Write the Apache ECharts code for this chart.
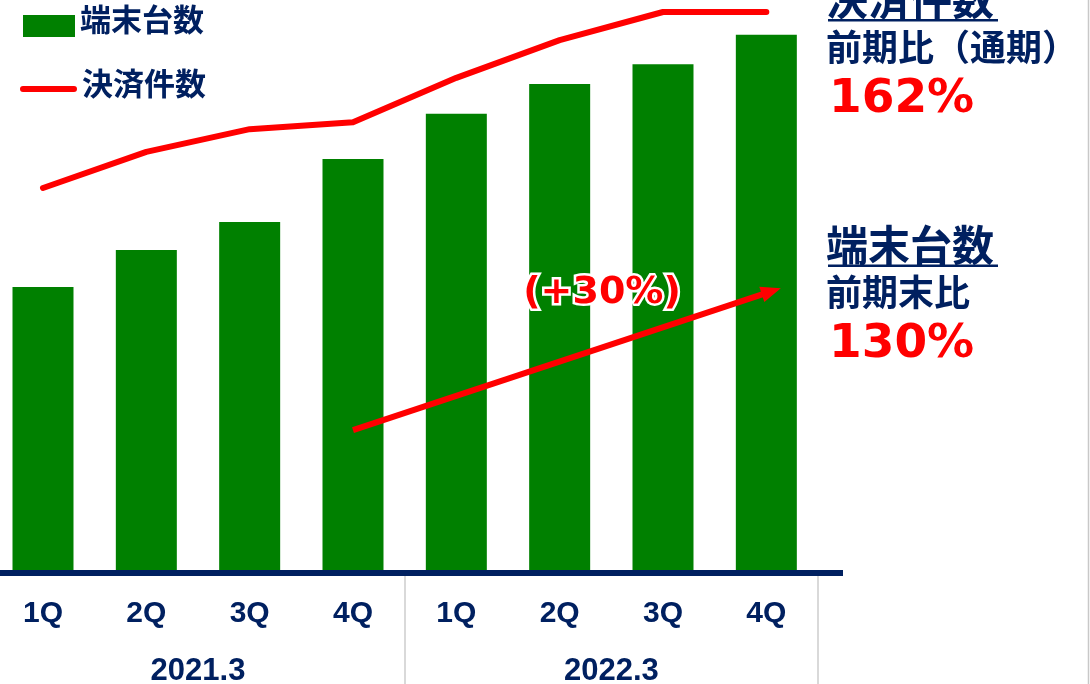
<!DOCTYPE html>
<html><head><meta charset="utf-8">
<script src="https://cdn.jsdelivr.net/npm/echarts@6/dist/echarts.min.js"></script>
<style>html,body{margin:0;padding:0;background:#fff;overflow:hidden}#c{width:1090px;height:684px}</style>
</head><body><div id="c"></div>
<script>
// ---- data (index: 2021.3 4Q terminals = 100) ----
const quarters = ['1Q','2Q','3Q','4Q','1Q','2Q','3Q','4Q'];
const fiscalYears = ['2021.3','2022.3'];
const terminals = [69.1, 78.0, 84.8, 100, 110.9, 118.1, 122.9, 130.0];
const payments  = [93.0, 101.7, 107.2, 108.9, 119.6, 128.7, 135.5, 135.5];
const seriesNames = ['端末台数','決済件数'];
const arrowFrom = [3, 34.5];
const arrowTo = [7.14, 68.8];
const growthLabel = '(+30%)';
const noteTitles = ['決済件数','端末台数'];
const noteSubs = ['前期比（通期）','前期末比'];
const noteValues = ['162%','130%'];

const NAVY = '#002060', GREEN = '#008000', RED = '#ff0000';
const CJK = "'Noto Sans CJK JP', sans-serif";
const chart = echarts.init(document.getElementById('c'), null, {renderer:'canvas'});

const legendText = {fontFamily: CJK, fontWeight: 'bold', fontSize: 31, lineHeight: 31, color: NAVY};
const option = {
  animation: false,
  backgroundColor: '#ffffff',
  grid: {left: -8.67, width: 826.67, top: 0, height: 573, containLabel: false, outerBoundsMode: 'none'},
  legend: [
    {data: [seriesNames[0]], left: 23, top: 1, padding: 0, orient: 'vertical',
     itemWidth: 52, itemHeight: 36, icon: 'path://M0,-14L0.001,-14ZM0,0H52V22H0Z', selectedMode: false,
     itemStyle: {borderWidth: 0}, textStyle: legendText},
    {data: [seriesNames[1]], left: 20, top: 67.5, padding: 0, orient: 'vertical',
     itemWidth: 57, itemHeight: 18, icon: 'path://M3,-12L3.001,-12ZM3,0H54A3,3,0,0,1,54,6H3A3,3,0,0,1,3,0Z', selectedMode: false,
     itemStyle: {borderWidth: 0}, textStyle: legendText}
  ],
  xAxis: [
    {type: 'category', data: quarters, position: 'bottom', z: 3,
     axisLine: {show: true, lineStyle: {color: NAVY, width: 6}},
     axisTick: {show: false},
     axisLabel: {interval: 0, margin: 26, color: NAVY, fontFamily: "'Liberation Sans', Arial, sans-serif", fontWeight: 'bold', fontSize: 30}},
    {type: 'category', data: fiscalYears, position: 'bottom', z: 1,
     axisLine: {show: false},
     axisTick: {show: true, interval: 0, length: 111, lineStyle: {color: '#d9d9d9', width: 2}},
     axisLabel: {interval: 0, margin: 83, color: NAVY, fontFamily: "'Liberation Sans', Arial, sans-serif", fontWeight: 'bold', fontSize: 31}}
  ],
  yAxis: [
    {type: 'value', min: 0, max: 138.4, show: false},
    {type: 'value', min: 0, max: 138.4, show: false}
  ],
  series: [
    {name: seriesNames[0], type: 'bar', data: terminals, barWidth: 61,
     xAxisIndex: 0, yAxisIndex: 0, itemStyle: {color: GREEN}, z: 2},
    {name: seriesNames[1], type: 'line', data: payments, xAxisIndex: 0, yAxisIndex: 1,
     symbol: 'none', color: RED, z: 4,
     lineStyle: {color: RED, width: 6, cap: 'round', join: 'round'}}
  ]
};
chart.setOption(option);

// ---- annotations ----
const p6 = chart.convertToPixel({seriesIndex: 0}, [6, arrowTo[1]]);
const p7 = chart.convertToPixel({seriesIndex: 0}, [7, arrowTo[1]]);
const S = chart.convertToPixel({seriesIndex: 0}, arrowFrom);
const T = [p7[0] + (arrowTo[0] - 7) * (p7[0] - p6[0]), p7[1]];
const dx = T[0] - S[0], dy = T[1] - S[1], L = Math.hypot(dx, dy);
const u = [dx / L, dy / L], n = [-u[1], u[0]];
const headL = 20, headW = 8;
const B = [T[0] - headL * u[0], T[1] - headL * u[1]];

const graphics = [
  {type: 'line', z: 10, shape: {x1: S[0], y1: S[1], x2: B[0] + 2*u[0], y2: B[1] + 2*u[1]},
   style: {stroke: RED, lineWidth: 6}},
  {type: 'polygon', z: 10, shape: {points: [T, [B[0] + headW*n[0], B[1] + headW*n[1]], [B[0] - headW*n[0], B[1] - headW*n[1]]]},
   style: {fill: RED}},
  {type: 'text', z: 11, x: 602, y: 293,
   style: {text: growthLabel, fontFamily: "'DejaVu Sans', sans-serif", fontWeight: 'bold', fontSize: 38,
           fill: RED, stroke: '#ffffff', lineWidth: 5, align: 'center', verticalAlign: 'middle',
           shadowColor: '#ffffff', shadowBlur: 10}},
  // navy axis extension
  {type: 'rect', z: 5, shape: {x: 817, y: 570, width: 26, height: 6}, style: {fill: NAVY}},
  // right border
  {type: 'line', z: 5, shape: {x1: 1088.5, y1: 0, x2: 1088.5, y2: 684}, style: {stroke: '#c8c8c8', lineWidth: 1.5}},
];
const blocks = [{titleY: -1, ulY: 19, subY: 47, valY: 100}, {titleY: 245, ulY: 264.5, subY: 292.5, valY: 345}];
blocks.forEach((b, i) => {
  graphics.push(
    {type: 'text', z: 11, x: 826, y: b.titleY,
     style: {text: noteTitles[i], fontFamily: CJK, fontWeight: 'bold', fontSize: 42, fill: NAVY, verticalAlign: 'middle'}},
    {type: 'rect', z: 11, shape: {x: 828, y: b.ulY, width: 170, height: 2.5}, style: {fill: NAVY}},
    {type: 'text', z: 11, x: 826, y: b.subY,
     style: {text: noteSubs[i], fontFamily: CJK, fontWeight: 'bold', fontSize: 36, fill: NAVY, verticalAlign: 'middle'}},
    {type: 'text', z: 11, x: 829, y: b.valY,
     style: {text: noteValues[i], fontFamily: "'DejaVu Sans', sans-serif", fontWeight: 'bold', fontSize: 47, fill: RED, verticalAlign: 'middle'}}
  );
});
chart.setOption({graphic: graphics});
</script>
</body></html>
